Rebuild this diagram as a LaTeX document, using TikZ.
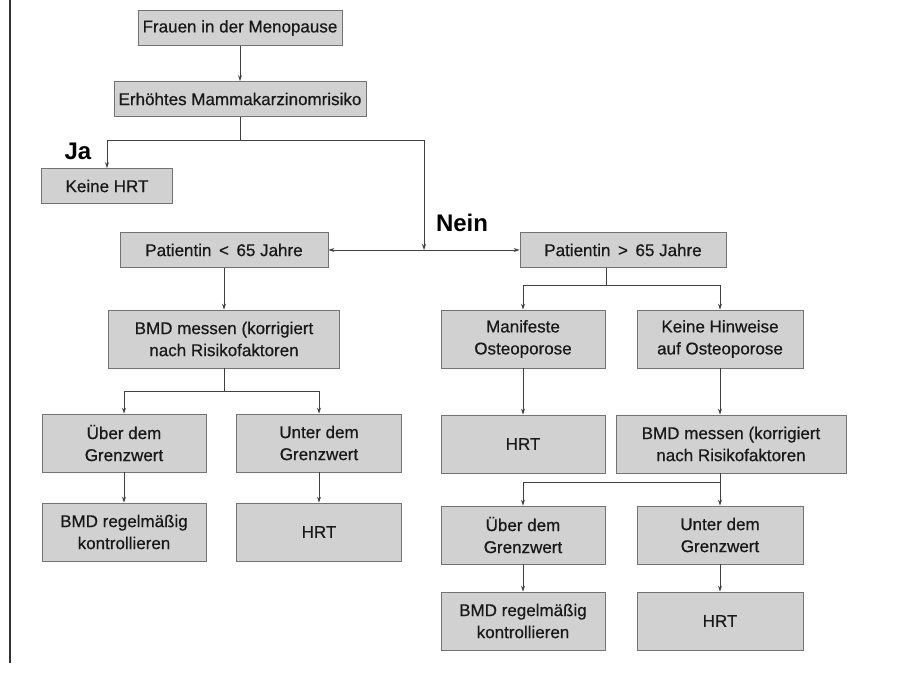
\documentclass[tikz,border=0pt]{standalone}
\usepackage{fontspec}
\setmainfont{Liberation Sans}
\newfontfamily\kastenfont[FakeBold=0.6]{Liberation Sans}
\usetikzlibrary{arrows.meta}

\begin{document}
\begin{tikzpicture}[x=1pt,y=-1pt,
  kasten/.style={draw=black!55, fill=black!18, line width=0.8pt, align=center, inner sep=0pt,
    text=black!90, font=\kastenfont\fontsize{17}{22}\selectfont, minimum width=164pt, minimum height=58pt},
  flach/.style={kasten, minimum height=35pt},
  antwort/.style={font=\fontsize{24}{26}\selectfont\bfseries, inner sep=0pt},
  linie/.style={draw=black!75, line width=0.8pt},
  pfeil/.style={linie, -{Stealth[length=6pt,width=4pt]}}]

\useasboundingbox (0,0) rectangle (912,673);
\draw [black!80, line width=1.2pt] (10,0) -- (10,663);

% oberer Teil
\node [flach, minimum width=204pt] (frauen) at (240,28) {Frauen in der Menopause};
\node [flach, minimum width=252pt] (risiko) at (240,99) {Erhöhtes Mammakarzinomrisiko};
\node [flach, minimum width=131pt] (keinehrt) at (107,186) {Keine HRT};
\node [flach, minimum width=208pt] (jung) at (224,250) {Patientin \,<\, 65 Jahre};
\node [flach, minimum width=206pt] (alt) at (623,250) {Patientin \,>\, 65 Jahre};

\node [antwort] (ja) at (78,151) {Ja};
\node [antwort] (nein) at (462,223) {Nein};

\coordinate (split1) at (240,140);
\coordinate (merge) at (424,250);

\draw [pfeil] (frauen) -- (risiko);
\draw [linie] (risiko.south) -- (split1);
\draw [pfeil] (split1) -| (keinehrt.north);
\draw [pfeil] (split1) -| (merge);
\draw [pfeil] (merge) -- (jung.east);
\draw [pfeil] (merge) -- (alt.west);

% linke Seite: Patientin < 65
\node [kasten, minimum width=231pt] (bmdL) at (224,339) {BMD messen (korrigiert\\nach Risikofaktoren};
\node [kasten] (ueberL) at (124,443) {Über dem\\Grenzwert};
\node [kasten, minimum width=165pt] (unterL) at (319,443) {Unter dem\\Grenzwert};
\node [kasten] (regelL) at (124,532) {BMD regelmäßig\\kontrollieren};
\node [kasten, minimum width=165pt] (hrtL) at (319,532) {HRT};

\coordinate (split2) at (224,391);

\draw [pfeil] (jung) -- (bmdL);
\draw [linie] (bmdL.south) -- (split2);
\draw [pfeil] (split2) -| (ueberL.north);
\draw [pfeil] (split2) -| (unterL.north);
\draw [pfeil] (ueberL) -- (regelL);
\draw [pfeil] (unterL) -- (hrtL);

% rechte Seite: Patientin > 65
\node [kasten] (manifest) at (523,339) {Manifeste\\Osteoporose};
\node [kasten, minimum width=166pt] (hinweis) at (720,339) {Keine Hinweise\\auf Osteoporose};
\node [kasten] (hrtM) at (523,444) {HRT};
\node [kasten, minimum width=230pt] (bmdR) at (731,444) {BMD messen (korrigiert\\nach Risikofaktoren};
\node [kasten] (ueberR) at (523,535) {Über dem\\Grenzwert};
\node [kasten, minimum width=166pt] (unterR) at (720,535) {Unter dem\\Grenzwert};
\node [kasten] (regelR) at (523,621) {BMD regelmäßig\\kontrollieren};
\node [kasten, minimum width=166pt] (hrtR) at (720,621) {HRT};

\coordinate (split3) at (606,285);
\coordinate (split4) at (720,482);

\draw [linie] (split3 |- alt.south) -- (split3);
\draw [pfeil] (split3) -| (manifest.north);
\draw [pfeil] (split3) -| (hinweis.north);
\draw [pfeil] (manifest) -- (hrtM);
\draw [pfeil] (hinweis) -- (hinweis |- bmdR.north);
\draw [linie] (split4 |- bmdR.south) -- (split4);
\draw [pfeil] (split4) -| (ueberR.north);
\draw [pfeil] (split4) -- (unterR.north);
\draw [pfeil] (ueberR) -- (regelR);
\draw [pfeil] (unterR) -- (hrtR);

\end{tikzpicture}
\end{document}
